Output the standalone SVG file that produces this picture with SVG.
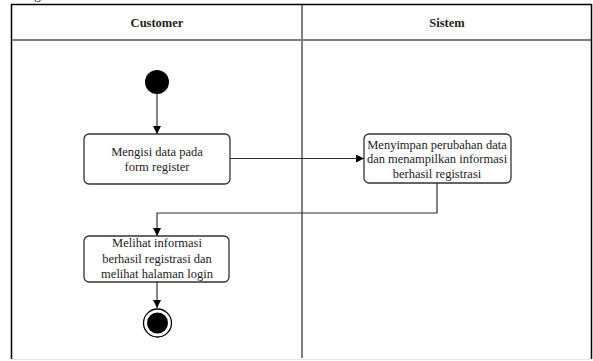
<svg xmlns="http://www.w3.org/2000/svg" width="593" height="361" viewBox="0 0 593 361">
  <style>
    .lane { fill: none; stroke: #000; stroke-width: 1.5; }
    .sep { stroke: #7f7f7f; stroke-width: 2; fill: none; }
    .head { font-family: "Liberation Serif", "Times New Roman", serif; font-size: 12.5px; font-weight: bold; fill: #222; text-anchor: middle; }
    .act rect { fill: #fff; stroke: #333; stroke-width: 1.3; }
    .act text { font-family: "Liberation Serif", "Times New Roman", serif; font-size: 12.5px; fill: #222; text-anchor: middle; }
    .edge { fill: none; stroke: #333; stroke-width: 1.2; marker-end: url(#arrow); }
  </style>
  <defs>
    <marker id="arrow" viewBox="0 0 10 10" refX="10" refY="5" markerWidth="8" markerHeight="8" markerUnits="userSpaceOnUse" orient="auto">
      <path d="M0,0 L10,5 L0,10 Z" fill="#000"/>
    </marker>
  </defs>
  <rect width="593" height="361" fill="#fff"/>

  <!-- caption remnant above the table -->
  <text x="34" y="-1" font-family="Liberation Serif, serif" font-size="14" fill="#222">g</text>

  <!-- swimlanes -->
  <g id="lanes">
    <line x1="11.5" y1="40" x2="591.5" y2="40" class="sep"/>
    <line x1="302" y1="4.5" x2="302" y2="358" class="sep"/>
    <path d="M11.5,359 V4.5 H591.5 V359" class="lane"/>
    <line x1="11.5" y1="359.5" x2="591.5" y2="359.5" stroke="#e6e6e6" stroke-width="1"/>
    <text x="157" y="27" class="head">Customer</text>
    <text x="447" y="27" class="head">Sistem</text>
  </g>

  <!-- connectors -->
  <g id="edges">
    <path d="M157,94 V134" class="edge"/>
    <path d="M230,158.5 H364" class="edge"/>
    <path d="M437,183 V213 H157 V236" class="edge"/>
    <path d="M157,282 V308" class="edge"/>
  </g>

  <g id="start">
    <circle cx="157" cy="82" r="12" fill="#000"/>
  </g>

  <g id="isi-form" class="act">
    <rect x="84" y="134" width="146" height="50" rx="5"/>
    <text x="157" y="156">Mengisi data pada</text>
    <text x="157" y="171">form register</text>
  </g>

  <g id="simpan-data" class="act">
    <rect x="364" y="134" width="147" height="49" rx="5"/>
    <text x="437" y="148.5">Menyimpan perubahan data</text>
    <text x="437" y="163">dan menampilkan informasi</text>
    <text x="437" y="177.5">berhasil registrasi</text>
  </g>

  <g id="lihat-info" class="act">
    <rect x="84" y="236" width="145" height="46" rx="5"/>
    <text x="157" y="247">Melihat informasi</text>
    <text x="157" y="262.5">berhasil registrasi dan</text>
    <text x="157" y="278">melihat halaman login</text>
  </g>

  <g id="end">
    <circle cx="157.5" cy="323" r="14" fill="#fff" stroke="#000" stroke-width="1.3"/>
    <circle cx="157.5" cy="323" r="10.5" fill="#000"/>
  </g>
</svg>
